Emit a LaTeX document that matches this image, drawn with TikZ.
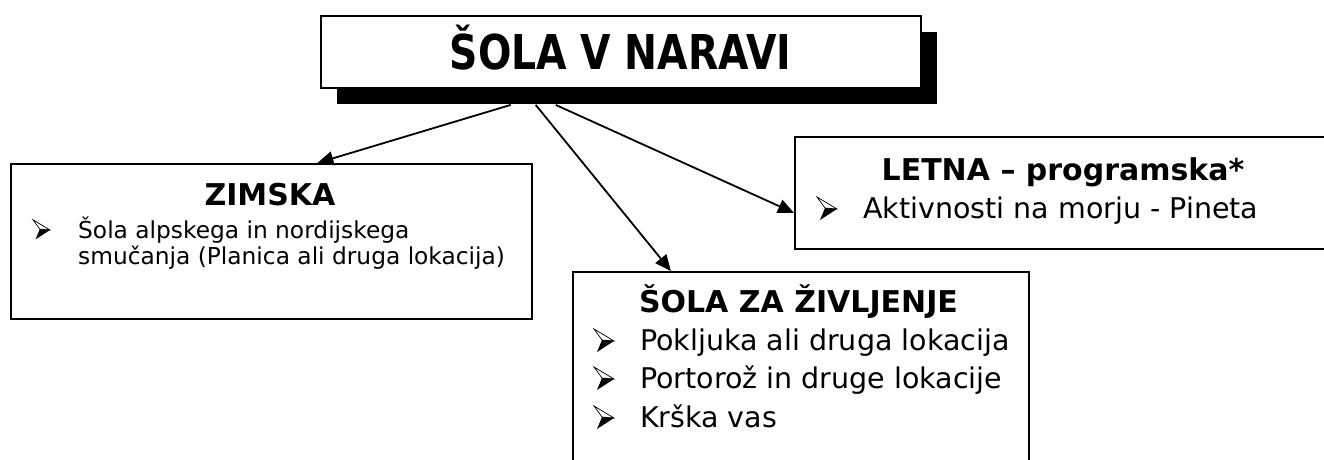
\documentclass[tikz,border=0pt]{standalone}
\usepackage{fontspec}
\setmainfont{DejaVu Sans}
\newfontfamily\grand{DejaVu Sans}[FakeStretch=0.82]
\usetikzlibrary{arrows.meta,shadows}

\tikzset{boite/.style = {draw, line width=1.8pt, anchor=north west, inner sep=0pt},
         titre/.style = {font=\bfseries\fontsize{30}{30}\selectfont, anchor=base, inner sep=0pt},
         puce/.style = {anchor=base west, inner sep=0pt, font=\fontsize{28.5}{28.5}\selectfont},
         fleche/.style = {-{Triangle[length=16pt,width=14pt]}, line width=1.8pt},
         puce3d/.pic = {\draw[fill=white, line width=0.7pt, line join=miter] (0,0) -- (-20,-12) -- (-12,-1) -- cycle;
                        \fill (0,0) -- (-12,-1) -- (-17,11) -- cycle;}
        }

\begin{document}
\begin{tikzpicture}[x=1pt,y=-1pt]
\useasboundingbox (0,0) rectangle (1324,460);
% titre principal
\node[draw, line width=1.8pt, fill=white, minimum width=600pt, minimum height=72pt,
      text height=36pt, text depth=0pt, font=\grand\bfseries\fontsize{48}{48}\selectfont,
      drop shadow={shadow xshift=16pt, shadow yshift=-16pt, fill=black, opacity=1}]
      at (620.7,52) (t) {ŠOLA V NARAVI};
% les trois cadres
\node[boite, minimum width=521pt, minimum height=155pt] at (10,163) (z) {};
\node[boite, minimum width=546pt, minimum height=112pt] at (794,136) (l) {};
\node[boite, minimum width=456pt, minimum height=209pt] at (572,271) (s) {};
% zimska
\node[titre] at (270,205) (zt) {ZIMSKA};
\pic[scale=0.85] at (50,230) {puce3d};
\node[puce, font=\fontsize{23.3}{23.3}\selectfont] at (78,238) (z1) {Šola alpskega in nordijskega};
\node[puce, font=\fontsize{23.3}{23.3}\selectfont] at (78,264) (z2) {smučanja (Planica ali druga lokacija)};
% letna
\node[titre] at (1063,180) (lt) {LETNA – programska*};
\pic at (837,209) {puce3d};
\node[puce] at (863,218) (l1) {Aktivnosti na morju - Pineta};
% sola za zivljenje
\node[titre] at (798.5,312) (st) {ŠOLA ZA ŽIVLJENJE};
\pic at (614,341) {puce3d};
\pic at (614,379) {puce3d};
\pic at (614,418) {puce3d};
\node[puce] at (640,350) (s1) {Pokljuka ali druga lokacija};
\node[puce] at (640,388) (s2) {Portorož in druge lokacije};
\node[puce] at (640,427) (s3) {Krška vas};
% fleches
\draw[fleche] ([xshift=-110pt,yshift=-16pt]t.south) -- ([xshift=46pt]z.north);
\draw[fleche] ([xshift=-85pt,yshift=-16pt]t.south) -- ([xshift=-130pt]s.north);
\draw[fleche] ([xshift=-65pt,yshift=-16pt]t.south) -- ([yshift=-20pt]l.west);
\end{tikzpicture}
\end{document}
